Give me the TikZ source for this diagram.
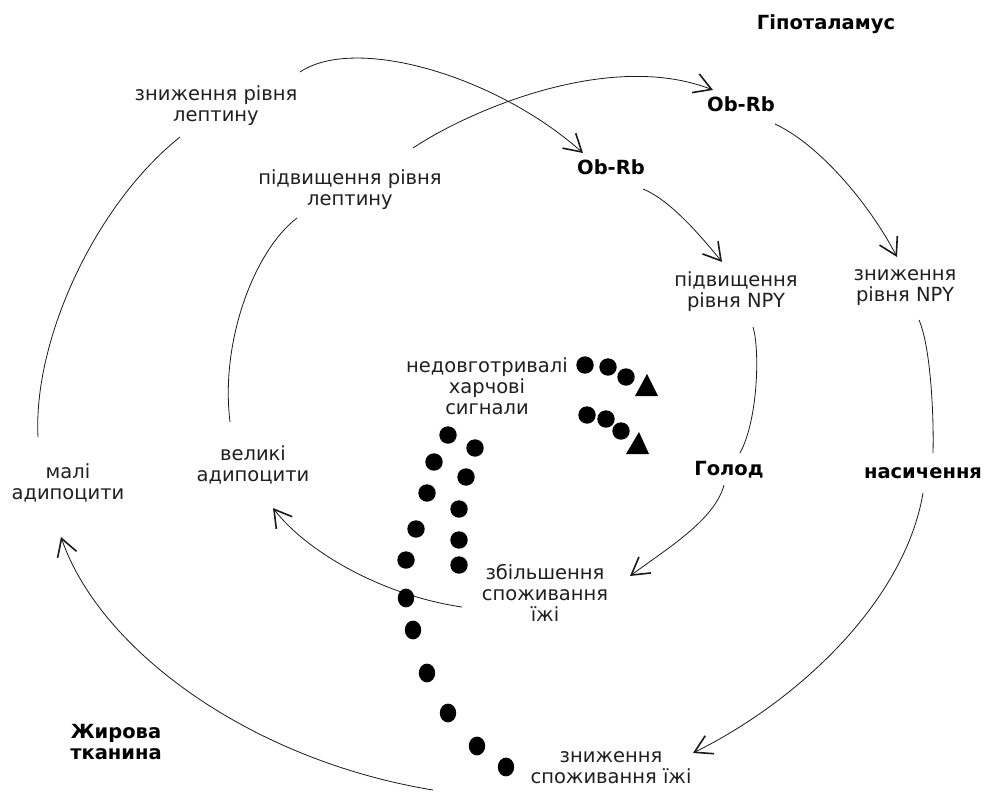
\documentclass[tikz,border=0pt]{standalone}
\usepackage{fontspec}
\setmainfont{DejaVu Sans}
\usetikzlibrary{arrows.meta}
\begin{document}
\begin{tikzpicture}[x=1pt,y=-1pt,
  txt/.style={font=\fontsize{19.5}{21}\selectfont, align=center, inner sep=0pt, text=black!88},
  btxt/.style={font=\bfseries\fontsize{19.5}{21}\selectfont, align=center, inner sep=0pt},
  ln/.style={line width=0.8pt, black!90},
  arr/.style={ln, -{Straight Barb[length=17pt,width=20pt,line width=1.6pt]}},
  dotf/.style={fill=black}
]
\useasboundingbox (0,0) rectangle (985,792);

% text nodes
\node[btxt] (hyp) at (826,24) {Гіпоталамус};
\node[txt] (znl) at (216,106) {зниження рівня\\лептину};
\node[txt] (pdl) at (350,190) {підвищення рівня\\лептину};
\node[btxt] (obA) at (741,104) {Ob-Rb};
\node[btxt] (obB) at (611,167) {Ob-Rb};
\node[txt] (pnpy) at (736,292) {підвищення\\рівня NPY};
\node[txt] (znpy) at (905,288) {зниження\\рівня NPY};
\node[txt] (sig) at (487,386) {недовготривалі\\харчові\\сигнали};
\node[txt] (vel) at (253,465) {великі\\адипоцити};
\node[txt] (mal) at (68,483) {малі\\адипоцити};
\node[btxt] (hol) at (729,470) {Голод};
\node[btxt] (nas) at (923,473) {насичення};
\node[txt] (zbs) at (545,593) {збільшення\\споживання\\їжі};
\node[txt] (zns) at (611,768) {зниження\\споживання їжі};
\node[btxt] (zhyr) at (116,742) {Жирова\\тканина};

% connector end points
\coordinate (znlE) at (300,72);
\coordinate (obBW) at (583,153);
\coordinate (pdlE) at (413,148);
\coordinate (obAW) at (713,90);
\coordinate (obAS) at (775,124);
\coordinate (znpyN) at (897,257);
\coordinate (obBS) at (643,189);
\coordinate (pnpyN) at (722,262);
\coordinate (pnpyS) at (753,327);
\coordinate (holN) at (740,453);
\coordinate (znpyS) at (919,320);
\coordinate (nasN) at (933,453);
\coordinate (holS) at (724,485);
\coordinate (zbsE) at (630,576);
\coordinate (nasS) at (923,493);
\coordinate (znsE) at (693,753);
\coordinate (znsW) at (433,790);
\coordinate (malS) at (61,537);
\coordinate (malN) at (38,437);
\coordinate (znlW) at (180,137);
\coordinate (velN) at (230,422);
\coordinate (pdlW) at (297,218);
\coordinate (zbsW) at (462,607);
\coordinate (velS) at (273,508);

% connectors
\draw[arr] (znlE) .. controls (355,35) and (495,75) .. (obBW);
\draw[arr] (pdlE) .. controls (470,110) and (610,50) .. (obAW);
\draw[arr] (obAS) .. controls (820,145) and (870,205) .. (znpyN);
\draw[arr] (obBS) .. controls (670,200) and (700,235) .. (pnpyN);
\draw[ln] (pnpyS) .. controls (760,350) and (758,420) .. (holN);
\draw[ln] (znpyS) .. controls (930,345) and (934,410) .. (nasN);
\draw[arr] (holS) .. controls (715,520) and (665,550) .. (zbsE);
\draw[arr] (nasS) .. controls (905,600) and (800,700) .. (znsE);
\draw[arr] (znsW) .. controls (250,760) and (100,650) .. (malS);
\draw[ln] (malN) .. controls (33,340) and (95,205) .. (znlW);
\draw[ln] (velN) .. controls (220,340) and (255,250) .. (pdlW);
\draw[arr] (zbsW) .. controls (380,595) and (305,550) .. (velS);

% dots
\foreach \p in {(585,365),(608,367),(626,377),(587,415),(606,419),(621,431),
  (475,448),(466,477),(459,509),(459,540),(459,565),
  (448,435),(434,462),(427,493),(416,529),(406,560)}
  \fill[dotf] \p circle[radius=8.7];
\foreach \p in {(406,598),(413,630),(427,673),(448,713),(477,746),(506,767)}
  \fill[dotf] \p ellipse[x radius=8.2, y radius=9.4];
\fill[dotf] (647,374) -- (635,396) -- (658,396) -- cycle;
\fill[dotf] (639,432) -- (626,454) -- (649,454) -- cycle;
\end{tikzpicture}
\end{document}
